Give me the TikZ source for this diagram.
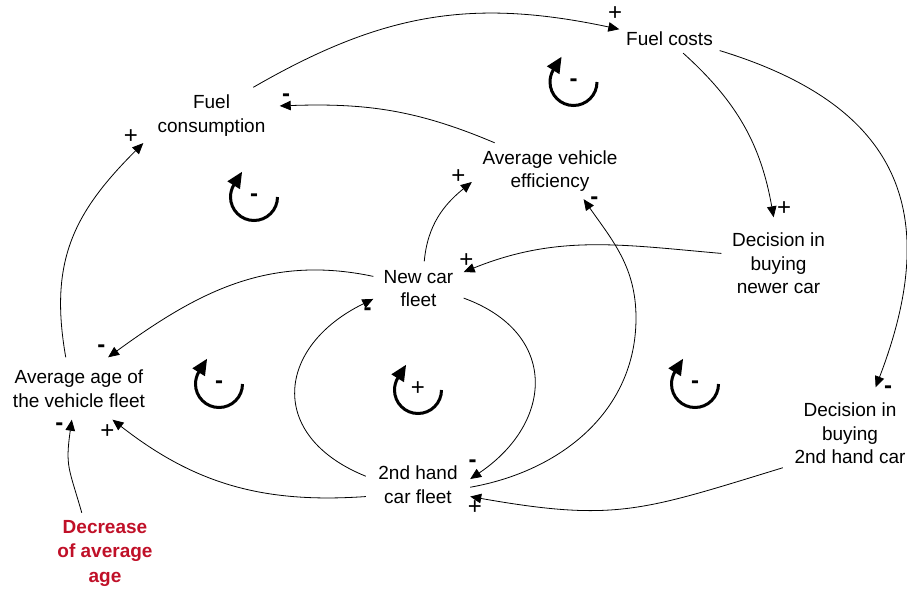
\documentclass[tikz,border=0pt]{standalone}
\usepackage{fontspec}
\setmainfont{Liberation Sans}
\usetikzlibrary{arrows.meta}
\definecolor{decred}{RGB}{192,16,40}
\begin{document}
\begin{tikzpicture}[x=1pt,y=1pt,
  lbl/.style={align=center, inner sep=0pt, font=\fontsize{19}{23.5}\selectfont},
  link/.style={line width=0.8pt, -{Triangle[length=11pt,width=9.5pt]}},
  loopar/.style={line width=3pt, -{Triangle[length=16pt,width=14pt]}},
  sgnp/.style={inner sep=0pt, font=\fontsize{24}{24}\selectfont, yshift=-1.4pt},
  sgnm/.style={inner sep=0pt, font=\bfseries\fontsize{24}{24}\selectfont, yshift=-2.2pt},
]
\useasboundingbox (0,0) rectangle (907,-591);

% variables
\node[lbl, minimum width=100pt, minimum height=28pt] (fcost) at (669.5,-39) {Fuel costs};
\node[lbl, minimum width=136pt, minimum height=56pt] (fcons) at (211.5,-115.5) {Fuel\\consumption};
\node[lbl, minimum width=156pt, minimum height=56pt] (ave) at (550,-171) {Average vehicle\\efficiency};
\node[lbl, minimum width=90pt, minimum height=54pt] (ncf) at (418.5,-288.5) {New car\\fleet};
\node[lbl, minimum width=114pt, minimum height=92pt] (dnew) at (778.5,-263.5) {Decision in\\buying\\newer car};
\node[lbl, minimum width=150pt, minimum height=62pt] (age) at (79,-388.5) {Average age of\\the vehicle fleet};
\node[lbl, minimum width=104pt, minimum height=28pt] (shf) at (418,-484.5) {2nd hand\\car fleet};
\node[lbl, minimum width=134pt, minimum height=92pt] (d2nd) at (850,-433.5) {Decision in\\buying\\2nd hand car};
\node[lbl, minimum width=110pt, minimum height=80pt, text=decred, font=\bfseries\fontsize{19}{24.5}\selectfont] (dec) at (105,-553) {Decrease\\of average\\age};

% causal links
\coordinate (via) at (636,-318);
\draw[link] (fcons.34) to[out=30,in=168,out distance=150pt,in distance=150pt] (fcost.169);
\draw[link] (ave.153) to[out=157,in=2] (fcons.8);
\draw[link] (fcost.-46) to[out=-42,in=100] (dnew.96);
\draw[link] (fcost.-13) to[out=-17,in=69,looseness=1.3] (d2nd.61);
\draw[link] (dnew.170) to[out=175,in=22] (ncf.20);
\draw[link] (ncf.78) to[out=85,in=219] (ave.188);
\draw[link] (ncf.165) to[out=168,in=36] (age.47);
\draw[link] (age.113) to[out=100,in=225,looseness=1.1] (fcons.202);
\draw[link] (shf.171) to[out=158,in=206,looseness=1.55] (ncf.193);
\draw[link] (ncf.-12) to[out=-20,in=34,looseness=1.43] (shf.6);
\draw[link] (shf.-3) to[out=10,in=-90] (via) to[out=90,in=-55] (ave.-40);
\draw[link] (d2nd.207) to[out=197,in=-10,looseness=1.2] (shf.-13);
\draw[link] (shf.193) to[out=184,in=-38] (age.-43);
\draw[link] (dec.120) to[out=106,in=-98,looseness=1.3] (age.-103);

% polarity signs
\node[sgnp] (s1) at (615,-12) {+};
\node[sgnm] (s2) at (286,-95) {-};
\node[sgnp] (s3) at (784,-207) {+};
\node[sgnm] (s4) at (888,-387) {-};
\node[sgnp] (s5) at (466.5,-259) {+};
\node[sgnp] (s6) at (458.3,-174.7) {+};
\node[sgnm] (s7) at (101.3,-346) {-};
\node[sgnp] (s8) at (131,-135) {+};
\node[sgnm] (s9) at (367.5,-309) {-};
\node[sgnm] (s10) at (472.5,-461) {-};
\node[sgnm] (s11) at (594.3,-198.3) {-};
\node[sgnp] (s12) at (475,-506) {+};
\node[sgnp] (s13) at (107.3,-430) {+};
\node[sgnm] (s14) at (59.3,-424) {-};

% loop markers
\coordinate (L1) at (573.5,-82);
\coordinate (L2) at (254,-197);
\coordinate (L3) at (219,-384);
\coordinate (L4) at (418,-390);
\coordinate (L5) at (695,-384);
\foreach \L in {L1,L2,L3,L4,L5}{
  \draw[loopar] (\L) ++(23.5,0) arc[start angle=0,end angle=-210,radius=23.5] -- ++(58:16);
}
\node[sgnm] (l1s) at ([yshift=2pt]L1) {-};
\node[sgnm] (l2s) at ([yshift=2pt]L2) {-};
\node[sgnm] (l3s) at ([yshift=2pt]L3) {-};
\node[sgnp] (l4s) at ([yshift=3pt]L4) {+};
\node[sgnm] (l5s) at ([yshift=2pt]L5) {-};
\end{tikzpicture}
\end{document}
